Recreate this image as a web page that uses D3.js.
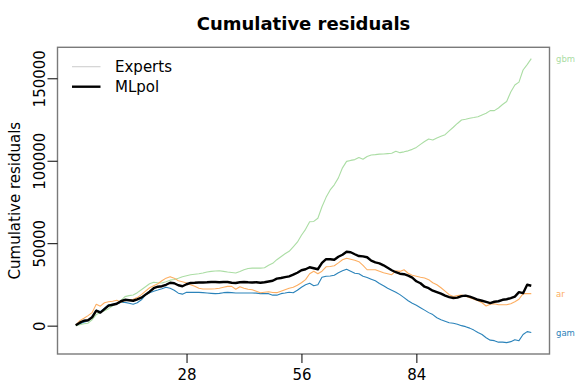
<!DOCTYPE html>
<html>
<head>
<meta charset="utf-8">
<script src="https://cdn.jsdelivr.net/npm/d3@7/dist/d3.min.js"></script>
<style>
  html, body { margin: 0; padding: 0; background: #fff; }
  svg { display: block; font-family: "DejaVu Sans", sans-serif; }
</style>
</head>
<body>
<svg id="chart" width="576" height="384"></svg>
<script>
// ---- data (cumulative residuals, t = 1..112) ----
const gbm = [0,600,1200,1500,3600,6700,7900,9100,10300,12100,13600,15100,17600,18200,18600,20000,21800,23600,25400,26300,
  26000,25900,26600,27600,28000,28800,29700,30300,30900,31200,31500,31900,32500,32900,33100,33300,32900,32500,32200,31900,
  32800,33900,34700,34900,34900,34900,35100,36600,37800,40000,41800,43600,45100,47800,50600,54800,58400,63000,63200,65100,
  72100,77800,82300,85400,89600,95700,99600,100200,100700,102000,100900,102600,103500,103700,104000,104100,104300,104500,105700,104900,
  105400,106000,106900,108100,109900,111700,113200,112600,113800,114800,115800,118100,120300,122600,124700,125200,125800,126200,126700,127800,
  128800,130400,130400,132000,134100,135900,141700,145900,147700,155000,158300,161900];
const ar = [300,3000,4500,6100,7900,13000,11800,13900,14500,14800,15400,14200,15100,15700,16000,17000,18800,20900,23000,24200,
  25400,27200,28800,29700,28800,27200,26600,25900,24800,23900,22700,22200,22200,22200,22400,22700,23300,23800,23800,22100,
  23600,22700,22100,21800,20900,20000,20300,20600,20100,20000,20900,21800,22700,23300,24500,26000,27900,31500,33000,31500,
  33000,35700,35900,36300,38100,40000,40900,40300,39700,38800,36600,33900,33900,33900,33000,32100,31500,30900,33300,32900,
  33900,31800,30600,30000,29400,28900,27900,26000,24800,23000,20900,18800,17700,18200,18600,17900,17000,16000,15100,13900,
  11900,13000,13300,12700,12700,12700,13300,14500,16000,19400,19500,19400];
const gam = [200,1200,2100,3000,5100,9400,8500,10600,12700,13000,13300,14100,14100,13600,13000,13900,15700,18500,20000,20900,
  21600,22400,23300,22700,21500,19700,19100,20200,20200,20200,20200,20000,19800,19600,19400,19600,20000,20200,20000,19800,
  19800,19800,19800,19800,19700,19400,19400,19400,18500,18500,19400,19800,20300,20000,21500,23300,24800,25700,24200,24800,
  29400,30000,30100,30600,32100,33300,34200,33000,31800,31500,30000,29200,28200,27200,25600,24200,22700,21500,20300,18800,
  17000,15100,13600,12400,10900,9400,7900,6700,4800,3600,2700,1800,1500,900,0,-600,-1500,-2700,-4200,-5400,
  -7300,-8800,-9100,-10000,-10000,-10300,-9700,-8500,-9100,-5400,-3600,-4200];
const mlpol = [300,1800,3000,3300,5100,9100,7900,10000,12100,12700,13300,14800,15700,15400,15100,16000,17000,18800,20600,22700,
  23600,23900,24800,26000,25700,24500,23900,25100,25900,26000,26200,26200,26300,26500,26500,26300,26500,26500,26000,25900,
  26300,26500,26300,26200,26300,26000,26300,26800,27200,28500,28900,29400,29900,30900,32100,33600,34200,35400,34800,34200,
  38100,40300,40300,40000,41800,43000,44800,44500,43300,42200,42000,41500,39400,38400,37800,36600,35100,33600,32400,31500,
  31200,30300,29100,26900,25700,23600,22700,21200,20300,19400,18200,17300,16800,17000,17900,18200,17600,16700,15700,15100,
  14400,13700,14500,14800,15700,16000,16700,17600,20300,19700,24800,24200];

const expertNames = ["gam", "gbm", "ar"];
const expertSeries = [gam, gbm, ar];
const expertColors = ["#2B83BA", "#ABDDA4", "#FDAE61"];
const xTicks = [28, 56, 84];
const yTicks = [0, 50000, 100000, 150000];
const legendLabels = ["Experts", "MLpol"];
const title = "Cumulative residuals";
const yLabel = "Cumulative residuals";

// ---- layout ----
const svg = d3.select("#chart");
const L = 57.5, R = 549.5, T = 47.3, B = 354;
const n = mlpol.length;
const xPad = 0.04 * (n - 1);
const x = d3.scaleLinear().domain([1 - xPad, n + xPad]).range([L, R]);
const all = expertSeries.flat().concat(mlpol);
const [ymin, ymax] = d3.extent(all);
const yPad = 0.04 * (ymax - ymin);
const y = d3.scaleLinear().domain([ymin - yPad, ymax + yPad]).range([B, T]);

svg.append("rect").attr("width", 576).attr("height", 384).attr("fill", "#fff");

const line = d3.line().x((d, i) => x(i + 1)).y(d => y(d));

const g = svg.append("g");
expertSeries.forEach((s, k) => {
  g.append("path").datum(s).attr("d", line)
    .attr("fill", "none").attr("stroke", expertColors[k]).attr("stroke-width", 1.1)
    .attr("stroke-linejoin", "round");
});
g.append("path").datum(mlpol).attr("d", line)
  .attr("fill", "none").attr("stroke", "#000").attr("stroke-width", 2.4)
  .attr("stroke-linejoin", "round");

// box
svg.append("rect").attr("x", L).attr("y", T).attr("width", R - L).attr("height", B - T)
  .attr("fill", "none").attr("stroke", "#7a7a7a").attr("stroke-width", 1.4);

// x axis
const xa = svg.append("g").attr("transform", `translate(0,${B})`)
  .call(d3.axisBottom(x).tickValues(xTicks).tickSize(9).tickPadding(4).tickFormat(d3.format("d")));
xa.select(".domain").remove();
xa.selectAll("line").attr("stroke", "#000");
xa.selectAll("text").attr("font-size", 15).attr("font-family", "DejaVu Sans").attr("fill", "#000")
  .attr("dy", null).attr("y", 25.5);

// y axis
const ya = svg.append("g").attr("transform", `translate(${L},0)`)
  .call(d3.axisLeft(y).tickValues(yTicks).tickSize(10).tickFormat(d3.format("d")));
ya.select(".domain").remove();
ya.selectAll("line").attr("stroke", "#000");
ya.selectAll("text").attr("font-size", 15).attr("font-family", "DejaVu Sans").attr("fill", "#000")
  .attr("x", 0).attr("y", -13).attr("dy", null).attr("text-anchor", "middle")
  .attr("transform", "rotate(-90)");

// title
svg.append("text").attr("x", (L + R) / 2).attr("y", 29.5).attr("text-anchor", "middle")
  .attr("font-size", 18).attr("font-weight", "bold").text(title);

// y label
svg.append("text").attr("transform", `translate(20,${(T + B) / 2}) rotate(-90)`)
  .attr("text-anchor", "middle").attr("font-size", 15).text(yLabel);

// legend
const legendColors = ["#cfcfcf", "#000"];
const legendWidths = [1.1, 2.4];
legendLabels.forEach((lab, k) => {
  const ly = 66.7 + k * 20;
  svg.append("line").attr("x1", 72).attr("x2", 100.5).attr("y1", ly).attr("y2", ly)
    .attr("stroke", legendColors[k]).attr("stroke-width", legendWidths[k]);
  svg.append("text").attr("x", 115).attr("y", ly).attr("dominant-baseline", "central")
    .attr("font-size", 15).text(lab);
});

// right-side expert labels at final values
expertSeries.forEach((s, k) => {
  svg.append("text").attr("x", 556).attr("y", y(s[s.length - 1]))
    .attr("dominant-baseline", "central").attr("font-size", 8.5)
    .attr("fill", expertColors[k]).text(expertNames[k]);
});
</script>
</body>
</html>
